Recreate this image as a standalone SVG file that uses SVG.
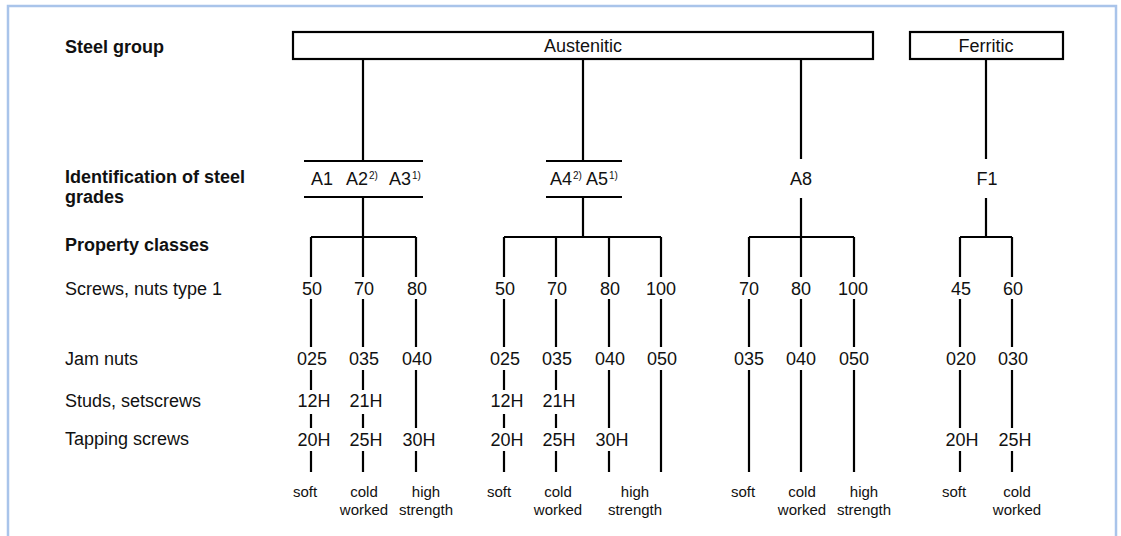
<svg xmlns="http://www.w3.org/2000/svg" width="1121" height="536" viewBox="0 0 1121 536">
<style>
text{font-family:"Liberation Sans",Arial,Helvetica,sans-serif;fill:#111}
.b{font-weight:bold;font-size:18px}
.r{font-size:18px}
.v{font-size:18px;text-anchor:middle}
.s{font-size:15px;text-anchor:middle}
.sup{font-size:10px}
.ln{stroke:#000;stroke-width:2.2;fill:none}
.box{stroke:#000;stroke-width:2.2;fill:#fff}
</style>
<rect x="8" y="6" width="1108" height="540" fill="#fff" stroke="#a9c4ea" stroke-width="2.5"/>
<g id="row-labels">
<text class="b" x="65" y="53">Steel group</text>
<text class="b" x="65" y="183">Identification of steel</text>
<text class="b" x="65" y="203">grades</text>
<text class="b" x="65" y="251">Property classes</text>
<text class="r" x="65" y="295">Screws, nuts type 1</text>
<text class="r" x="65" y="365">Jam nuts</text>
<text class="r" x="65" y="407">Studs, setscrews</text>
<text class="r" x="65" y="445">Tapping screws</text>
</g>
<g id="austenitic">
<rect class="box" x="293" y="32" width="580" height="27"/>
<text class="v" x="583" y="52">Austenitic</text>
</g>
<g id="ferritic">
<rect class="box" x="910" y="32" width="153" height="27"/>
<text class="v" x="986" y="52">Ferritic</text>
</g>
<g id="grade-a1a2a3">
<text class="r" x="311" y="185">A1</text>
<text class="r" x="346" y="185">A2</text><text class="sup" x="369" y="179">2)</text>
<text class="r" x="389" y="185">A3</text><text class="sup" x="412" y="179">1)</text>
</g>
<g id="grade-a4a5">
<text class="r" x="550" y="185">A4</text><text class="sup" x="573" y="179">2)</text>
<text class="r" x="586" y="185">A5</text><text class="sup" x="609" y="179">1)</text>
</g>
<g id="grade-a8"><text class="v" x="801" y="185">A8</text></g>
<g id="grade-f1"><text class="v" x="987" y="185">F1</text></g>
<g id="classes-g1">
<text class="v" x="312" y="295">50</text><text class="v" x="364" y="295">70</text><text class="v" x="417" y="295">80</text>
<text class="v" x="312" y="365">025</text><text class="v" x="364" y="365">035</text><text class="v" x="417" y="365">040</text>
<text class="v" x="314" y="407">12H</text><text class="v" x="366" y="407">21H</text>
<text class="v" x="314" y="446">20H</text><text class="v" x="366" y="446">25H</text><text class="v" x="419" y="446">30H</text>
<text class="s" x="305" y="497">soft</text>
<text class="s" x="364" y="497">cold</text><text class="s" x="364" y="515">worked</text>
<text class="s" x="426" y="497">high</text><text class="s" x="426" y="515">strength</text>
</g>
<g id="classes-g2">
<text class="v" x="505" y="295">50</text><text class="v" x="557" y="295">70</text><text class="v" x="610" y="295">80</text><text class="v" x="661" y="295">100</text>
<text class="v" x="505" y="365">025</text><text class="v" x="557" y="365">035</text><text class="v" x="610" y="365">040</text><text class="v" x="662" y="365">050</text>
<text class="v" x="507" y="407">12H</text><text class="v" x="559" y="407">21H</text>
<text class="v" x="507" y="446">20H</text><text class="v" x="559" y="446">25H</text><text class="v" x="612" y="446">30H</text>
<text class="s" x="499" y="497">soft</text>
<text class="s" x="558" y="497">cold</text><text class="s" x="558" y="515">worked</text>
<text class="s" x="635" y="497">high</text><text class="s" x="635" y="515">strength</text>
</g>
<g id="classes-a8">
<text class="v" x="749" y="295">70</text><text class="v" x="801" y="295">80</text><text class="v" x="853" y="295">100</text>
<text class="v" x="749" y="365">035</text><text class="v" x="801" y="365">040</text><text class="v" x="854" y="365">050</text>
<text class="s" x="743" y="497">soft</text>
<text class="s" x="802" y="497">cold</text><text class="s" x="802" y="515">worked</text>
<text class="s" x="864" y="497">high</text><text class="s" x="864" y="515">strength</text>
</g>
<g id="classes-f1">
<text class="v" x="961" y="295">45</text><text class="v" x="1013" y="295">60</text>
<text class="v" x="961" y="365">020</text><text class="v" x="1013" y="365">030</text>
<text class="v" x="962" y="446">20H</text><text class="v" x="1015" y="446">25H</text>
<text class="s" x="954" y="497">soft</text>
<text class="s" x="1017" y="497">cold</text><text class="s" x="1017" y="515">worked</text>
</g>
<g id="connectors" class="ln">
<path d="M363 59V161M304 161H423M304 197H423M363 197V237M311 237H416"/>
<path d="M583 59V161M546 161H622M546 197H622M583 197V237M504 237H661"/>
<path d="M801 59V159M801 198V237M749 237H854"/>
<path d="M986 59V159M986 198V237M960 237H1012"/>
<path d="M311 237V277M311 299V347M311 370V390M311 414V428M311 451V472"/>
<path d="M363 237V277M363 299V347M363 370V390M363 414V428M363 451V472"/>
<path d="M416 237V277M416 299V347M416 370V428M416 451V472"/>
<path d="M504 237V277M504 299V347M504 370V390M504 414V428M504 451V472"/>
<path d="M556 237V277M556 299V347M556 370V390M556 414V428M556 451V472"/>
<path d="M609 237V277M609 299V347M609 370V428M609 451V472"/>
<path d="M661 237V277M661 299V347M661 370V472"/>
<path d="M749 237V277M749 299V347M749 370V472"/>
<path d="M801 237V277M801 299V347M801 370V472"/>
<path d="M854 237V277M854 299V347M854 370V472"/>
<path d="M960 237V277M960 299V347M960 370V428M960 451V472"/>
<path d="M1012 237V277M1012 299V347M1012 370V428M1012 451V472"/>
</g>
</svg>
